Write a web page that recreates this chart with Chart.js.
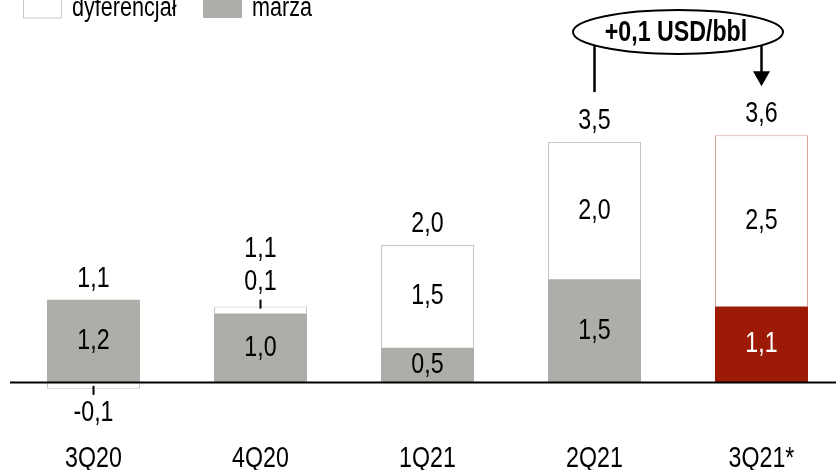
<!DOCTYPE html>
<html>
<head>
<meta charset="utf-8">
<script src="https://cdn.jsdelivr.net/npm/chart.js@4"></script>
<style>
  html, body { margin: 0; padding: 0; background: #fff; overflow: hidden; }
  #wrap { width: 850px; height: 470px; }
</style>
</head>
<body>
<div id="wrap"><canvas id="chart" width="850" height="470"></canvas></div>
<script>
// ===== data =====
const categories = ['3Q20', '4Q20', '1Q21', '2Q21', '3Q21*'];
const marza = [1.2, 1.0, 0.5, 1.5, 1.1];
const dyferencjal = [-0.1, 0.1, 1.5, 2.0, 2.5];
const seriesNames = ['marża', 'dyferencjał'];
const annotationText = '+0,1 USD/bbl';

const FONT = "'Liberation Sans', Arial, sans-serif";
const GRAY = '#adada9';
const RED = '#9c1a06';
const NARROW = 0.8; // no Arial Narrow installed -> squeeze regular text

function fmt(v) { return (Math.round(v * 10) / 10).toFixed(1).replace('.', ','); }

function narrowText(ctx, text, x, y) {
  ctx.save();
  ctx.translate(x, y);
  ctx.scale(NARROW, 1);
  ctx.fillText(text, 0, 0);
  ctx.restore();
}

// labels on segments, totals above, axis labels, legend + the +0,1 annotation
const labelsPlugin = {
  id: 'labels',
  afterDatasetsDraw(chart) {
    const ctx = chart.ctx;
    const metas = chart.data.datasets.map((d, i) => chart.getDatasetMeta(i));
    const xs = chart.scales.x;
    ctx.save();
    ctx.font = '29px ' + FONT;
    ctx.textAlign = 'center';
    ctx.textBaseline = 'middle';

    const tops = [];
    categories.forEach((c, i) => {
      let top = chart.scales.y.getPixelForValue(0);
      let smallTop = null;
      let total = 0;
      chart.data.datasets.forEach((ds, di) => {
        const v = ds.data[i];
        total += v;
        const el = metas[di].data[i];
        const x = el.x;
        if (v > 0) top = Math.min(top, el.y);
        if (Math.abs(v) < 0.3) {
          ctx.fillStyle = '#000';
          ctx.strokeStyle = '#000';
          ctx.lineWidth = 2;
          if (v < 0) {
            const bottom = Math.max(el.y, el.base);
            ctx.beginPath(); ctx.moveTo(x, bottom - 3); ctx.lineTo(x, bottom + 6); ctx.stroke();
            narrowText(ctx, fmt(v), x, bottom + 24);
          } else {
            ctx.beginPath(); ctx.moveTo(x, el.y + 2); ctx.lineTo(x, el.y - 7); ctx.stroke();
            smallTop = el.y - 25;
            narrowText(ctx, fmt(v), x, smallTop);
          }
        } else {
          ctx.fillStyle = ds.textColor[i];
          narrowText(ctx, fmt(v), x, (el.y + el.base) / 2);
        }
      });
      tops.push(top);
      const x = metas[0].data[i].x;
      ctx.fillStyle = '#000';
      const ty = smallTop !== null ? smallTop - 33 : top - 21;
      narrowText(ctx, fmt(total), x, ty);
      // category label under the axis
      narrowText(ctx, xs.getLabelForValue(i), xs.getPixelForValue(i), 459);
    });

    // annotation between the last two bars
    const x1 = xs.getPixelForValue(3);
    const x2 = xs.getPixelForValue(4);
    const cx = (x1 + x2) / 2;
    const cy = 32;
    ctx.strokeStyle = '#000';
    ctx.lineWidth = 2.5;
    ctx.beginPath(); ctx.moveTo(x1, cy + 14); ctx.lineTo(x1, tops[3] - 50); ctx.stroke();
    ctx.beginPath(); ctx.moveTo(x2, cy + 14); ctx.lineTo(x2, tops[4] - 63); ctx.stroke();
    ctx.fillStyle = '#000';
    ctx.beginPath();
    ctx.moveTo(x2 - 8.5, tops[4] - 64);
    ctx.lineTo(x2 + 8.5, tops[4] - 64);
    ctx.lineTo(x2, tops[4] - 49);
    ctx.closePath(); ctx.fill();
    ctx.fillStyle = '#fff';
    ctx.lineWidth = 2;
    ctx.beginPath(); ctx.ellipse(cx, cy, 105, 22, 0, 0, Math.PI * 2); ctx.fill(); ctx.stroke();
    ctx.fillStyle = '#000';
    ctx.font = 'bold 29px ' + FONT;
    narrowText(ctx, annotationText, cx - 2, cy + 1);

    // legend (cut at the top edge like the source)
    ctx.font = '27px ' + FONT;
    ctx.textAlign = 'left';
    ctx.textBaseline = 'alphabetic';
    ctx.lineWidth = 1;
    const legend = [
      { ds: chart.data.datasets[1], x: 23 },
      { ds: chart.data.datasets[0], x: 203 }
    ];
    legend.forEach(item => {
      ctx.fillStyle = item.ds.legendFill;
      ctx.fillRect(item.x, -4, 39, 22);
      if (item.ds.legendFill === '#ffffff') {
        ctx.strokeStyle = '#c8c8c8';
        ctx.strokeRect(item.x + 0.5, -4, 38, 22);
      }
      ctx.fillStyle = '#000';
      narrowText(ctx, item.ds.label, item.x + 49, 16);
    });

    // zero line
    const y0 = Math.round(chart.scales.y.getPixelForValue(0)) + 0.5;
    ctx.strokeStyle = '#000';
    ctx.lineWidth = 2;
    ctx.beginPath(); ctx.moveTo(10, y0); ctx.lineTo(chart.width, y0); ctx.stroke();
    ctx.restore();
  }
};

new Chart(document.getElementById('chart'), {
  type: 'bar',
  data: {
    labels: categories,
    datasets: [
      {
        label: seriesNames[0],
        data: marza,
        backgroundColor: marza.map((v, i) => i === 4 ? RED : GRAY),
        borderWidth: 0,
        textColor: marza.map((v, i) => i === 4 ? '#fff' : '#000'),
        legendFill: GRAY
      },
      {
        label: seriesNames[1],
        data: dyferencjal,
        backgroundColor: '#ffffff',
        borderColor: dyferencjal.map((v, i) => i === 4 ? '#d9a29c' : '#c4c4c4'),
        borderWidth: 1,
        borderSkipped: 'start',
        textColor: dyferencjal.map(() => '#000'),
        legendFill: '#ffffff'
      }
    ]
  },
  options: {
    responsive: false,
    animation: false,
    layout: { padding: { left: 10, right: 5, top: 5, bottom: 0 } },
    datasets: { bar: { categoryPercentage: 1, barPercentage: 0.557 } },
    scales: {
      x: {
        stacked: true,
        grid: { display: false, drawTicks: false },
        border: { display: false },
        ticks: { display: false },
        afterFit(scale) { scale.height = 40; }
      },
      y: {
        stacked: true,
        display: false,
        min: -0.7,
        max: 5.5
      }
    },
    plugins: {
      legend: { display: false },
      tooltip: { enabled: false }
    }
  },
  plugins: [labelsPlugin]
});
</script>
</body>
</html>
